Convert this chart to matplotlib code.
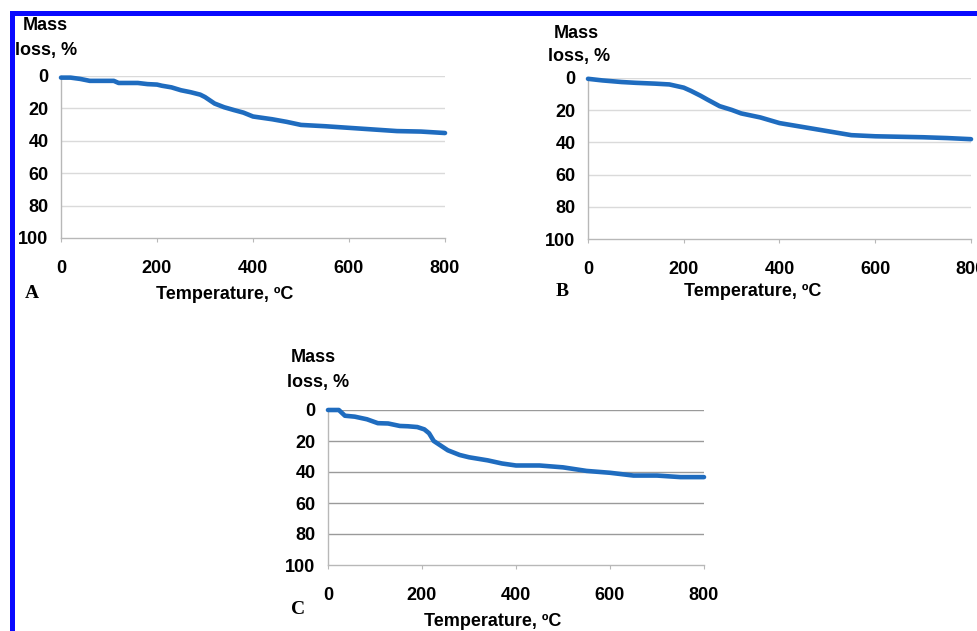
import matplotlib
matplotlib.use("Agg")
import matplotlib.pyplot as plt
from matplotlib.patches import Rectangle

plt.rcParams['font.family'] = ['Liberation Sans', 'DejaVu Sans']

W, H = 978, 631

# sample A
temp_a = [0, 20, 40, 60, 100, 110, 120, 160, 180, 200, 210, 230, 250, 270, 290, 300, 320,
          340, 360, 380, 400, 440, 470, 500, 550, 600, 650, 700, 750, 800]
loss_a = [1, 1, 1.8, 3, 3, 3, 4.3, 4.3, 5, 5.3, 6, 7, 8.8, 10, 11.5, 13, 17,
          19.3, 21, 22.6, 25, 26.7, 28.3, 30.2, 31, 32, 33, 34, 34.3, 35.2]

# sample B
temp_b = [0, 30, 70, 100, 140, 170, 200, 215, 235, 250, 275, 300, 320, 360, 400, 450,
          500, 550, 600, 650, 700, 750, 800]
loss_b = [0.5, 1.5, 2.5, 3, 3.5, 4, 6, 8, 11, 13.5, 17.5, 19.8, 22, 24.5, 28, 30.5,
          33, 35.5, 36.2, 36.5, 36.8, 37.3, 38]

# sample C
temp_c = [0, 23, 36, 57, 83, 106, 128, 153, 170, 190, 205, 215, 225, 240, 255, 280,
          300, 340, 370, 400, 450, 500, 550, 600, 650, 700, 750, 800]
loss_c = [0, 0, 3.7, 4.3, 6, 8.5, 8.7, 10.3, 10.5, 11, 12.5, 15, 20, 23, 26, 29,
          30.5, 32.5, 34.5, 35.8, 35.8, 37, 39.3, 40.5, 42.3, 42.3, 43.3, 43.3]

y_ticks = [0, 20, 40, 60, 80, 100]
x_ticks = [0, 200, 400, 600, 800]

LINE = '#1f6cbf'
FS = 13


def px_axes(fig, x0, x1, y0, y1):
    return fig.add_axes([x0 / W, 1 - y1 / H, (x1 - x0) / W, (y1 - y0) / H])


def panel(fig, box, temp, loss, letter, grid_col, label_pos, letter_pos, mass_pos):
    ax = px_axes(fig, *box)
    ax.plot(temp, loss, color=LINE, lw=3.3, solid_capstyle='round', clip_on=False, zorder=3)
    ax.set_xlim(0, 800)
    ax.set_ylim(100, 0)
    ax.set_xticks(x_ticks)
    ax.set_yticks(y_ticks)
    for t in y_ticks[:-1]:
        ax.axhline(t, color=grid_col, lw=1.0, zorder=1)
    for s in ['top', 'right']:
        ax.spines[s].set_visible(False)
    for s in ['left', 'bottom']:
        ax.spines[s].set_color('#b8b8b8')
        ax.spines[s].set_linewidth(1.0)
    ax.tick_params(axis='y', length=0, pad=9, labelsize=FS)
    ax.tick_params(axis='x', length=3, direction='out', color='#b8b8b8', pad=13, labelsize=FS)
    for lab in ax.get_xticklabels() + ax.get_yticklabels():
        lab.set_fontweight('bold')
    fig.text(label_pos[0] / W, 1 - label_pos[1] / H, 'Temperature, \u00baC', ha='center', va='center',
             fontsize=FS, fontweight='bold')
    fig.text(letter_pos[0] / W, 1 - letter_pos[1] / H, letter, ha='center', va='center',
             fontsize=14, fontweight='bold', family='Liberation Serif')
    fig.text(mass_pos[0] / W, 1 - mass_pos[1] / H, 'Mass', ha='center', va='center',
             fontsize=FS, fontweight='bold')
    fig.text(mass_pos[2] / W, 1 - mass_pos[3] / H, 'loss, %', ha='center', va='center',
             fontsize=FS, fontweight='bold')
    return ax


fig = plt.figure(figsize=(W / 100, H / 100), dpi=100)

panel(fig, (61, 445, 76, 238), temp_a, loss_a, 'A', '#dadada',
      (225, 294), (32, 293), (45, 26, 46, 50))
panel(fig, (588, 971, 78, 239), temp_b, loss_b, 'B', '#dadada',
      (753, 292), (562, 291), (576, 33, 579, 57))
panel(fig, (328, 704, 410, 565), temp_c, loss_c, 'C', '#9a9a9a',
      (493, 622), (298, 610), (313, 358, 318, 383))

# blue frame on the left and top
fig.add_artist(Rectangle((10 / W, 0), 5 / W, 1 - 11 / H, transform=fig.transFigure,
                         color='#0a0aff', lw=0))
fig.add_artist(Rectangle((10 / W, 1 - 16 / H), 1, 5 / H, transform=fig.transFigure,
                         color='#0a0aff', lw=0))

fig.savefig('out.png', dpi=100)
